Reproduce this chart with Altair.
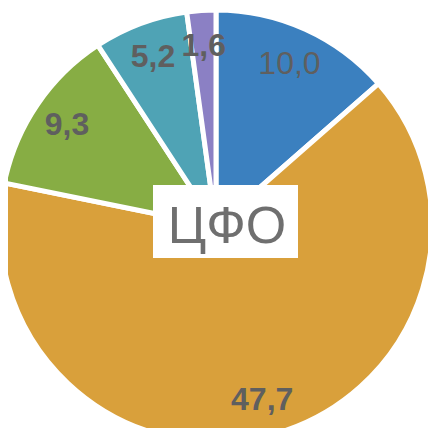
import altair as alt
import pandas as pd

regions = ["A", "B", "C", "D", "E"]
values = [10.0, 47.7, 9.3, 5.2, 1.6]
labels = ["10,0", "47,7", "9,3", "5,2", "1,6"]
weights = ["normal", "bold", "bold", "bold", "bold"]
colors = ["#3b80bf", "#d9a03b", "#87ad44", "#4fa3b5", "#8b80c4"]
center_label = "ЦФО"

df = pd.DataFrame({"region": regions, "value": values, "label": labels,
                   "weight": weights, "order": list(range(len(regions)))})

# view origin sits at page (1, 1) because of the negative padding
CX, CY = 215, 225

pie = alt.Chart(df).mark_arc(radius=216, stroke="white", strokeWidth=5).encode(
    theta=alt.Theta("value:Q", stack=True),
    order=alt.Order("order:Q"),
    x=alt.value(CX), y=alt.value(CY),
    color=alt.Color("region:N", scale=alt.Scale(domain=regions, range=colors), legend=None),
)

tbase = alt.Chart(df).transform_joinaggregate(total="sum(value)").transform_window(
    cum="sum(value)", sort=[alt.SortField("order")], frame=[None, 0]
).transform_calculate(
    mid="(datum.cum - datum.value / 2) / datum.total"
).encode(
    theta=alt.Theta("mid:Q", stack=None, scale=alt.Scale(domain=[0, 1])),
    x=alt.value(CX), y=alt.value(CY),
    text="label:N",
)

txt_norm = tbase.transform_filter(alt.datum.weight == "normal").mark_text(
    radius=178, fontSize=32, font="Liberation Sans", color="#5f5f5f"
)
txt_bold = tbase.transform_filter(alt.datum.weight == "bold").mark_text(
    radius=180, fontSize=32, font="Liberation Sans", fontWeight="bold", color="#5f5f5f"
)
labels_layer = alt.layer(txt_norm, txt_bold)

box = alt.Chart(pd.DataFrame({"t": [center_label]})).mark_rect(color="white").encode(
    x=alt.value(152), x2=alt.value(297), y=alt.value(184), y2=alt.value(257)
)
ctext = alt.Chart(pd.DataFrame({"t": [center_label]})).mark_text(
    fontSize=52, font="Liberation Sans", color="#6f6f6f", baseline="alphabetic"
).encode(x=alt.value(226), y=alt.value(242), text="t:N")

chart = alt.layer(pie, labels_layer, box, ctext).resolve_scale(
    theta="independent"
).properties(
    width=427, height=427, autosize="none",
    padding={"left": -7, "top": -7, "right": 0, "bottom": 0},
).configure_view(stroke=None)

chart.save("out.html", embed_options={"renderer": "svg", "actions": False})
